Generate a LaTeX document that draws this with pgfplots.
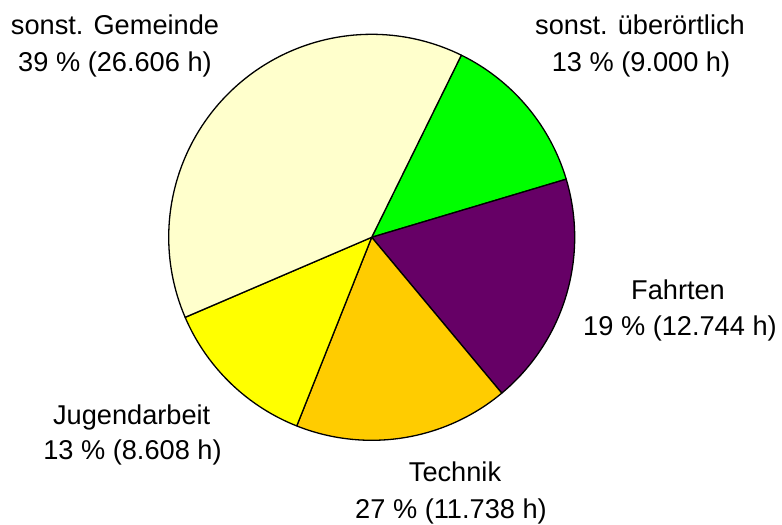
\documentclass[border=0pt]{standalone}
\usepackage{pgfplots}
\pgfplotsset{compat=1.18}
\usepackage{pgfplotstable}
\usepackage{fontspec}
\setmainfont{Liberation Sans}
\definecolor{cGem}{HTML}{FFFFCC}
\definecolor{cUeb}{HTML}{00FF00}
\definecolor{cFah}{HTML}{660066}
\definecolor{cTec}{HTML}{FFCC00}
\definecolor{cJug}{HTML}{FFFF00}
% slices in clockwise order, starting at the top right
\pgfplotstableread{
name hours col
ueberoertlich 9.000 cUeb
Fahrten 12.744 cFah
Technik 11.738 cTec
Jugendarbeit 8.608 cJug
Gemeinde 26.606 cGem
}\piedata
\begin{document}
\begin{tikzpicture}
\begin{axis}[
  width=782bp, height=525bp, scale only axis,
  xmin=0, xmax=782, ymin=0, ymax=525,
  hide axis, clip=false,
]
\path (axis cs:0,0) rectangle (axis cs:782,525);
\gdef\total{0}
\pgfplotsforeachungrouped \i in {0,...,4}{%
  \pgfplotstablegetelem{\i}{hours}\of\piedata
  \pgfmathsetmacro\tmp{\total+\pgfplotsretval}%
  \xdef\total{\tmp}%
}
\gdef\cum{0}
\pgfplotsforeachungrouped \i in {0,...,4}{%
  \pgfplotstablegetelem{\i}{hours}\of\piedata
  \let\h\pgfplotsretval
  \pgfplotstablegetelem{\i}{col}\of\piedata
  \let\col\pgfplotsretval
  \pgfmathsetmacro\angA{63.8-\cum/\total*360}%
  \pgfmathsetmacro\newcum{\cum+\h}%
  \pgfmathsetmacro\angB{63.8-\newcum/\total*360}%
  \xdef\cum{\newcum}%
  \edef\cmd{\noexpand\addplot[fill=\col, draw=black, line width=1.3bp, line join=round, domain=\angB:\angA, samples=90]
    ({371.7+203*cos(x)},{287.7+203*sin(x)}) -- (axis cs:371.7,287.7) -- cycle;}%
  \cmd
}
\tikzset{lab/.style={anchor=base, inner sep=0pt, font=\fontsize{27.3pt}{33pt}\selectfont}}
\node[lab] at (axis cs:115,490) {sonst. Gemeinde};
\node[lab] at (axis cs:115,453.3) {39 \% (26.606 h)};
\node[lab] at (axis cs:640,490) {sonst. überörtlich};
\node[lab] at (axis cs:641,453) {13 \% (9.000 h)};
\node[lab] at (axis cs:678,225.7) {Fahrten};
\node[lab] at (axis cs:680,189) {19 \% (12.744 h)};
\node[lab] at (axis cs:455,43.3) {Technik};
\node[lab] at (axis cs:451,6.7) {27 \% (11.738 h)};
\node[lab] at (axis cs:131.7,100.7) {Jugendarbeit};
\node[lab] at (axis cs:132.5,65) {13 \% (8.608 h)};
\end{axis}
\end{tikzpicture}
\end{document}
